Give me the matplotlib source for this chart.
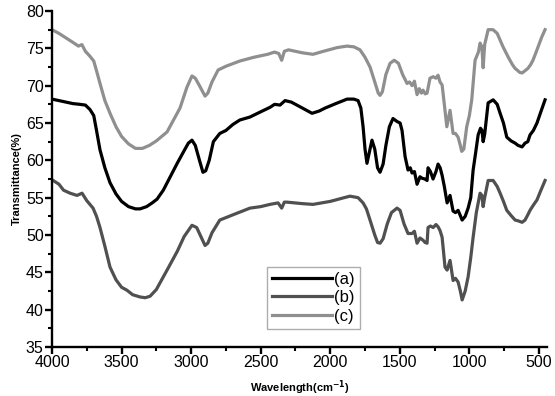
import matplotlib
matplotlib.use("Agg")
import matplotlib.pyplot as plt
from matplotlib.ticker import MultipleLocator

plt.rcParams['font.family'] = ['Liberation Sans', 'DejaVu Sans']

x_a = [4000, 3950, 3900, 3850, 3800, 3760, 3727, 3700, 3680, 3655, 3620, 3583, 3540, 3500, 3450, 3400, 3367, 3320, 3280, 3245,
       3200, 3150, 3100, 3050, 3020, 2994, 2970, 2940, 2915, 2895, 2870, 2840, 2794, 2750, 2700, 2650, 2577, 2500, 2433, 2400,
       2361, 2325, 2280, 2200, 2131, 2080, 2037, 1960, 1879, 1830, 1800, 1780, 1764, 1750, 1736, 1720, 1700, 1680, 1660, 1642,
       1620, 1600, 1575, 1549, 1520, 1498, 1484, 1462, 1441, 1425, 1412, 1395, 1376, 1355, 1340, 1320, 1304, 1297, 1280, 1261,
       1240, 1225, 1210, 1196, 1180, 1160, 1139, 1117, 1100, 1081, 1065, 1052, 1030, 1009, 990, 973, 955, 937, 920, 909,
       901, 890, 865, 829, 800, 779, 755, 731, 700, 671, 650, 621, 600, 580, 564, 540, 514, 490, 456]
y_a = [68.2, 68.0, 67.8, 67.6, 67.5, 67.4, 66.8, 66.0, 64.0, 61.4, 59.0, 57.0, 55.5, 54.5, 53.8, 53.5, 53.5, 53.8, 54.3, 54.8,
       56.0, 57.8, 59.6, 61.3, 62.3, 62.7, 62.0, 60.0, 58.4, 58.6, 60.0, 62.5, 63.6, 64.0, 64.8, 65.4, 65.8, 66.5, 67.1, 67.5,
       67.4, 68.0, 67.8, 67.0, 66.3, 66.6, 67.0, 67.6, 68.2, 68.2, 68.0, 67.0, 64.5, 61.5, 59.6, 61.0, 62.7, 61.5, 59.0, 58.4,
       59.5, 62.0, 64.5, 65.6, 65.2, 65.0, 64.0, 60.5, 58.7, 59.0, 58.3, 58.5, 56.8, 57.8, 57.6, 57.5, 57.3, 59.0, 58.5, 57.5,
       58.5, 59.5, 59.0, 58.0, 56.5, 54.3, 55.3, 53.2, 53.0, 53.3, 52.6, 52.0, 52.5, 53.6, 55.0, 58.7, 61.0, 63.4, 64.3, 64.0,
       62.5, 63.5, 67.7, 68.1, 67.5, 66.3, 65.0, 63.1, 62.6, 62.3, 62.0, 61.8, 62.3, 62.5, 63.4, 64.0, 65.0, 66.3, 68.1]

x_b = [4000, 3950, 3917, 3870, 3820, 3784, 3750, 3705, 3680, 3655, 3620, 3583, 3540, 3500, 3461, 3420, 3367, 3330, 3295, 3250,
       3173, 3100, 3050, 2994, 2960, 2930, 2900, 2880, 2850, 2794, 2700, 2577, 2500, 2433, 2375, 2349, 2330, 2310, 2200, 2124,
       2000, 1900, 1858, 1800, 1764, 1740, 1714, 1680, 1660, 1642, 1620, 1590, 1560, 1520, 1498, 1470, 1441, 1412, 1395, 1376,
       1355, 1333, 1318, 1304, 1297, 1280, 1260, 1240, 1225, 1211, 1196, 1175, 1160, 1139, 1117, 1100, 1081, 1065, 1052, 1030,
       1009, 990, 973, 950, 923, 910, 901, 890, 865, 829, 800, 779, 755, 731, 700, 671, 650, 621, 600, 580,
       564, 540, 514, 490, 456]
y_b = [57.4, 56.8, 56.0, 55.6, 55.3, 55.6, 54.6, 53.6, 52.5, 51.0, 48.5, 45.7, 44.0, 43.0, 42.6, 42.0, 41.7, 41.6, 41.8, 42.7,
       45.3, 47.8, 49.8, 51.3, 51.0, 49.8, 48.6, 48.9, 50.3, 52.0, 52.7, 53.6, 53.8, 54.1, 54.3, 53.6, 54.4, 54.4, 54.2, 54.1,
       54.5, 55.0, 55.2, 55.0, 54.3, 53.5, 52.0, 50.0, 49.0, 48.9, 49.5, 51.5, 53.0, 53.6, 53.3, 51.5, 50.2, 50.2, 50.5, 48.9,
       49.6, 49.3, 49.0, 48.9, 51.0, 51.2, 51.0, 51.4, 51.1, 50.6, 49.7, 45.7, 45.3, 46.6, 43.9, 44.2, 43.7, 42.5, 41.3, 42.5,
       44.4, 47.0, 49.7, 53.0, 55.6, 55.3, 53.8, 55.0, 57.3, 57.3, 56.5, 55.6, 54.5, 53.3, 52.6, 52.0, 51.9, 51.7, 52.0, 52.7,
       53.3, 54.0, 54.7, 55.8, 57.3]

x_c = [4000, 3950, 3900, 3850, 3810, 3785, 3760, 3730, 3700, 3680, 3655, 3620, 3583, 3540, 3500, 3450, 3400, 3350, 3300, 3250,
       3173, 3080, 3030, 2994, 2970, 2940, 2900, 2880, 2850, 2806, 2750, 2650, 2550, 2450, 2400, 2370, 2349, 2330, 2300, 2200,
       2124, 2050, 1950, 1880, 1830, 1786, 1750, 1714, 1680, 1655, 1642, 1625, 1600, 1570, 1540, 1510, 1480, 1448, 1430, 1412,
       1395, 1376, 1360, 1345, 1333, 1318, 1304, 1283, 1260, 1240, 1225, 1211, 1196, 1180, 1162, 1139, 1117, 1100, 1081, 1065,
       1055, 1040, 1019, 1000, 983, 959, 935, 923, 910, 901, 890, 865, 830, 800, 758, 720, 690, 671, 657, 640,
       621, 600, 580, 560, 543, 520, 500, 480, 456]
y_c = [77.5, 77.0, 76.4, 75.8, 75.3, 75.5, 74.6, 74.0, 73.3, 72.0, 70.3, 68.0, 66.3, 64.5, 63.2, 62.2, 61.6, 61.6, 62.0, 62.6,
       63.8, 67.0, 69.8, 71.3, 71.0, 70.0, 68.6, 69.0, 70.5, 72.1, 72.6, 73.3, 73.8, 74.2, 74.5, 74.3, 73.4, 74.6, 74.8, 74.4,
       74.2, 74.6, 75.1, 75.3, 75.2, 74.8, 73.8, 72.5, 70.5, 69.0, 68.7, 69.2, 71.5, 73.0, 73.4, 73.0, 71.5, 70.3, 70.5, 70.0,
       70.6, 68.8, 69.6, 69.0, 69.4, 68.9, 69.0, 71.0, 71.2, 71.0, 71.4, 70.5, 70.1, 67.5, 64.5, 66.7, 63.6, 63.6, 63.1, 62.0,
       61.2, 61.5, 64.5, 66.0, 68.1, 73.4, 74.5, 75.7, 75.2, 72.4, 75.5, 77.5, 77.5, 77.0, 75.2, 73.8, 72.8, 72.3, 72.1, 71.8,
       71.7, 72.0, 72.3, 72.8, 73.4, 74.5, 75.5, 76.5, 77.5]

labels = ["(a)", "(b)", "(c)"]
colors = ["#000000", "#505050", "#8f8f8f"]

fig = plt.figure(figsize=(5.55, 3.96), dpi=100)
ax = fig.add_axes([52/555, 1-347/396, 495/555, 336/396])

for xs, ys, lab, col in zip([x_a, x_b, x_c], [y_a, y_b, y_c], labels, colors):
    ax.plot(xs, ys, color=col, lw=2.3, label=lab, solid_joinstyle='round')

ax.set_xlim(4000, 442)
ax.set_ylim(35, 80)
ax.xaxis.set_major_locator(MultipleLocator(500))
ax.xaxis.set_minor_locator(MultipleLocator(250))
ax.yaxis.set_major_locator(MultipleLocator(5))
ax.yaxis.set_minor_locator(MultipleLocator(2.5))
ax.spines['top'].set_visible(False)
ax.spines['right'].set_visible(False)
for s in ['left', 'bottom']:
    ax.spines[s].set_linewidth(1.7)
ax.tick_params(which='major', direction='out', length=5, width=1.7, labelsize=11.5, pad=1)
ax.tick_params(which='minor', direction='out', length=3, width=1.5)

ax.set_xlabel("Wavelength(cm$^{\\mathbf{-1}}$)", fontsize=8, fontweight='bold', labelpad=6)
ax.set_ylabel("Transmittance(%)", fontsize=8, fontweight='bold', labelpad=3)

leg = ax.legend(loc='lower left', bbox_to_anchor=(0.434, 0.055), fontsize=12, handlelength=3.6,
                handletextpad=0.15, borderpad=0.3, labelspacing=0.2, fancybox=False, frameon=True,
                borderaxespad=0)
leg.get_frame().set_edgecolor('#999999')
leg.get_frame().set_linewidth(1.0)

fig.savefig("out.png", dpi=100)
